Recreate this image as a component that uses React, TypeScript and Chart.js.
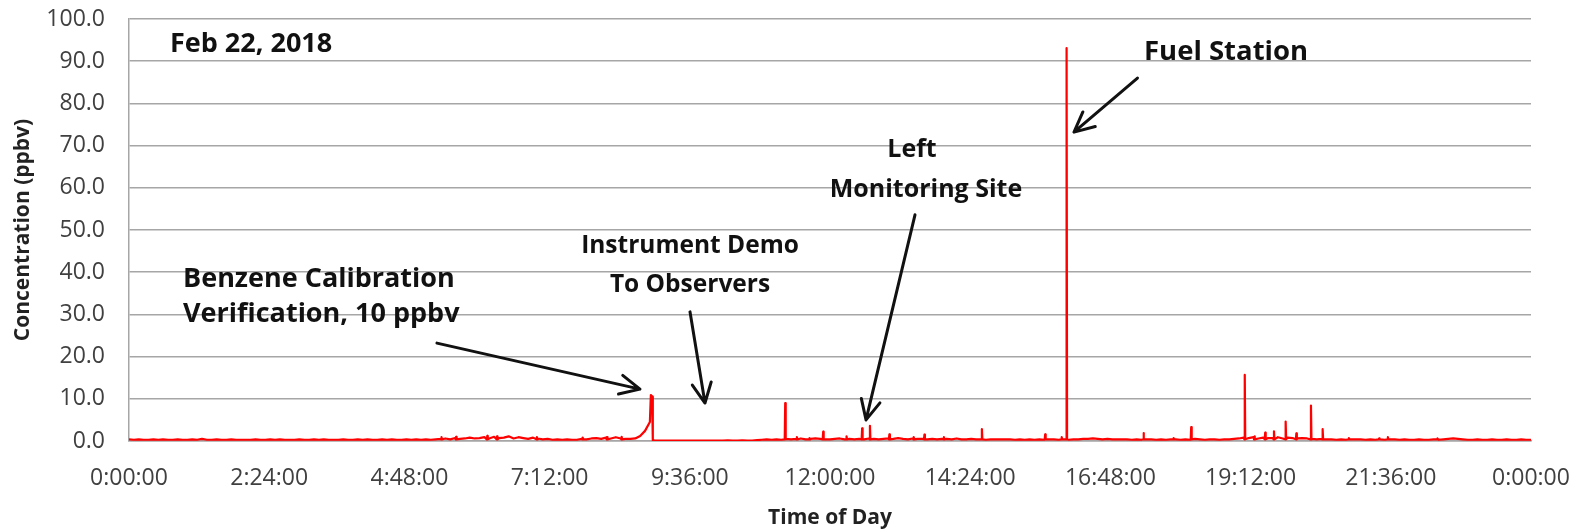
import React, { useEffect, useRef } from 'react';
import { Chart, registerables } from 'chart.js';

Chart.register(...registerables);

// ---------- data ----------
const xTickValues = [0, 144, 288, 432, 576, 720, 864, 1008, 1152, 1296, 1440];
const xTickLabels = ['0:00:00', '2:24:00', '4:48:00', '7:12:00', '9:36:00', '12:00:00', '14:24:00', '16:48:00', '19:12:00', '21:36:00', '0:00:00'];
const yTickLabels = ['0.0', '10.0', '20.0', '30.0', '40.0', '50.0', '60.0', '70.0', '80.0', '90.0', '100.0'];

// baseline concentration every 5 minutes (minute 0 .. 1440)
const baselineStepMin = 5;
const baselineValues = [
  0.4, 0.3, 0.4, 0.3, 0.3, 0.4, 0.3, 0.4, 0.3, 0.3, 0.4, 0.3,
  0.3, 0.4, 0.3, 0.5, 0.3, 0.3, 0.4, 0.3, 0.3, 0.4, 0.3, 0.3,
  0.3, 0.3, 0.4, 0.3, 0.3, 0.4, 0.3, 0.4, 0.3, 0.3, 0.3, 0.4,
  0.3, 0.3, 0.4, 0.3, 0.4, 0.3, 0.3, 0.3, 0.4, 0.3, 0.3, 0.4,
  0.3, 0.4, 0.3, 0.3, 0.4, 0.3, 0.4, 0.3, 0.3, 0.4, 0.3, 0.4,
  0.3, 0.4, 0.3, 0.4, 0.5, 0.6, 0.4, 0.7, 0.5, 0.6, 0.8, 0.6,
  0.7, 0.9, 0.6, 1.0, 0.7, 0.8, 1.1, 0.6, 0.9, 0.7, 0.5, 0.8,
  0.6, 0.4, 0.5, 0.3, 0.4, 0.3, 0.4, 0.3, 0.3, 0.5, 0.4, 0.6,
  0.7, 0.5, 0.8, 0.6, 0.9, 0.6, 0.5, 0.5, 0.6, 1.2, 2.4, 4.5,
  0.1, 0.1, 0.1, 0.1, 0.1, 0.1, 0.1, 0.1, 0.1, 0.1, 0.1, 0.1,
  0.1, 0.1, 0.1, 0.15, 0.1, 0.1, 0.15, 0.1, 0.1, 0.2, 0.3, 0.4,
  0.3, 0.4, 0.3, 0.5, 0.4, 0.5, 0.6, 0.4, 0.5, 0.6, 0.5, 0.4,
  0.4, 0.5, 0.6, 0.4, 0.5, 0.4, 0.5, 0.4, 0.6, 0.5, 0.4, 0.5,
  0.6, 0.5, 0.7, 0.5, 0.4, 0.6, 0.5, 0.5, 0.4, 0.5, 0.4, 0.5,
  0.5, 0.4, 0.6, 0.4, 0.4, 0.5, 0.4, 0.4, 0.3, 0.4, 0.4, 0.4,
  0.4, 0.4, 0.3, 0.4, 0.3, 0.4, 0.3, 0.4, 0.3, 0.4, 0.4, 0.3,
  0.4, 0.3, 0.4, 0.4, 0.5, 0.5, 0.6, 0.5, 0.4, 0.5, 0.4, 0.4,
  0.4, 0.4, 0.3, 0.4, 0.3, 0.4, 0.4, 0.3, 0.4, 0.3, 0.4, 0.4,
  0.3, 0.4, 0.3, 0.5, 0.4, 0.3, 0.4, 0.4, 0.3, 0.4, 0.4, 0.5,
  0.6, 0.8, 0.7, 0.9, 0.6, 0.8, 0.7, 0.7, 0.9, 0.6, 0.8, 0.7,
  0.6, 0.7, 0.6, 0.5, 0.4, 0.5, 0.4, 0.4, 0.3, 0.4, 0.3, 0.4,
  0.4, 0.4, 0.3, 0.4, 0.3, 0.4, 0.3, 0.4, 0.4, 0.3, 0.4, 0.3,
  0.3, 0.4, 0.3, 0.3, 0.4, 0.3, 0.4, 0.5, 0.6, 0.5, 0.4, 0.3,
  0.3, 0.4, 0.3, 0.3, 0.4, 0.3, 0.3, 0.4, 0.3, 0.3, 0.4, 0.3,
  0.3,
];

// calibration verification peak (minutes, ppbv)
const calibrationTimes = [536, 537.3, 538];
const calibrationValues = [10.9, 10.5, 0.2];

// narrow spikes (minutes, ppbv peak)
const spikeTimes = [321, 336, 368, 378, 419, 466, 491, 506, 674, 686, 699, 713, 737, 753, 761, 781, 806, 817, 837, 876, 941, 958, 963, 1042, 1073, 1091, 1146, 1156, 1167, 1176, 1188, 1199, 1214, 1226, 1253, 1284, 1293, 1344];
const spikeValues = [0.9, 1.0, 1.2, 1.1, 0.9, 0.8, 0.9, 1.0, 9.0, 0.9, 0.7, 2.2, 1.1, 3.0, 3.6, 1.6, 0.9, 1.5, 0.9, 2.8, 1.6, 0.9, 93.1, 1.9, 0.7, 3.3, 15.7, 1.1, 2.0, 2.3, 4.6, 1.8, 8.4, 2.8, 0.7, 0.6, 0.9, 0.6];
const spikeFoot = 0.4;

// annotation texts (anchored in data units: minutes, ppbv at text baseline)
const noteTexts = ['Feb 22, 2018', 'Benzene Calibration', 'Verification, 10 ppbv', 'Instrument Demo', 'To Observers', 'Left', 'Monitoring Site', 'Fuel Station'];
const noteX = [42.1, 55.5, 55.5, 576.2, 576.2, 804.2, 818.6, 1042.5];
const noteY = [92.2, 36.5, 28.2, 44.5, 35.3, 67.3, 57.8, 90.3];
const noteAlign = ['left', 'left', 'left', 'center', 'center', 'center', 'center', 'left'];
const noteSize = [27, 27, 27, 24.5, 24.5, 25, 25, 27.5];

// arrows: from (x0,y0) to (x1,y1) in data units
const arrowFromX = [316.3, 576.2, 807.3, 1035.8];
const arrowFromY = [23.2, 30.6, 53.6, 86.0];
const arrowToX = [524.8, 591.6, 757.0, 970.6];
const arrowToY = [12.3, 9.0, 5.0, 73.2];

function buildPoints() {
  const pts: { x: number; y: number }[] = [];
  baselineValues.forEach((v, i) => pts.push({ x: i * baselineStepMin, y: v }));
  calibrationTimes.forEach((t, i) => pts.push({ x: t, y: calibrationValues[i] }));
  spikeTimes.forEach((t, i) => {
    pts.push({ x: t - 0.5, y: spikeFoot });
    pts.push({ x: t, y: spikeValues[i] });
    pts.push({ x: t + 0.5, y: spikeFoot });
  });
  pts.sort((a, b) => a.x - b.x);
  return pts;
}

const FONT = '"Open Sans", "DejaVu Sans", sans-serif';

const annotationPlugin = {
  id: 'notes',
  afterDraw(chart: any) {
    const { ctx, scales } = chart;
    const xs = scales.x;
    const ys = scales.y;
    ctx.save();
    ctx.fillStyle = '#111111';
    ctx.textBaseline = 'alphabetic';
    noteTexts.forEach((t, i) => {
      ctx.font = `bold ${noteSize[i]}px ${FONT}`;
      ctx.textAlign = noteAlign[i];
      ctx.fillText(t, xs.getPixelForValue(noteX[i]), ys.getPixelForValue(noteY[i]));
    });
    ctx.strokeStyle = '#111111';
    ctx.lineWidth = 3;
    ctx.lineCap = 'round';
    ctx.lineJoin = 'round';
    arrowFromX.forEach((_, i) => {
      const x0 = xs.getPixelForValue(arrowFromX[i]);
      const y0 = ys.getPixelForValue(arrowFromY[i]);
      const x1 = xs.getPixelForValue(arrowToX[i]);
      const y1 = ys.getPixelForValue(arrowToY[i]);
      const ang = Math.atan2(y1 - y0, x1 - x0);
      const head = 22;
      const spread = 0.45;
      ctx.beginPath();
      ctx.moveTo(x0, y0);
      ctx.lineTo(x1, y1);
      ctx.moveTo(x1 - head * Math.cos(ang - spread), y1 - head * Math.sin(ang - spread));
      ctx.lineTo(x1, y1);
      ctx.lineTo(x1 - head * Math.cos(ang + spread), y1 - head * Math.sin(ang + spread));
      ctx.stroke();
    });
    // axis titles
    const area = chart.chartArea;
    ctx.fillStyle = '#222222';
    ctx.font = `bold 21px ${FONT}`;
    ctx.textAlign = 'center';
    ctx.textBaseline = 'middle';
    ctx.fillText('Time of Day', (area.left + area.right) / 2, 518);
    ctx.translate(23, (area.top + area.bottom) / 2);
    ctx.rotate(-Math.PI / 2);
    ctx.fillText('Concentration (ppbv)', 0, 0);
    ctx.restore();
  },
};

export default function App() {
  const ref = useRef<HTMLCanvasElement | null>(null);
  useEffect(() => {
    document.body.style.margin = '0';
    if (!ref.current) return;
    const chart = new Chart(ref.current, {
      type: 'line',
      data: {
        datasets: [
          {
            label: 'Benzene',
            data: buildPoints(),
            borderColor: '#ff0000',
            borderWidth: 2.2,
            borderJoinStyle: 'round',
            pointRadius: 0,
            fill: false,
            tension: 0,
          },
        ],
      },
      options: {
        animation: false,
        responsive: true,
        maintainAspectRatio: false,
        parsing: false as any,
        layout: { padding: { top: 19, right: 52, left: 0, bottom: 0 } },
        plugins: { legend: { display: false }, tooltip: { enabled: false }, title: { display: false } },
        scales: {
          x: {
            type: 'linear',
            min: 0,
            max: 1440,
            afterBuildTicks: (s: any) => {
              s.ticks = xTickValues.map((v) => ({ value: v }));
            },
            afterFit: (s: any) => {
              s.height = 91;
              s.paddingLeft = 0;
              s.paddingRight = 0;
            },
            grid: { display: false, drawTicks: false },
            border: { display: true, color: '#a6a6a6', width: 1.5 },
            ticks: {
              autoSkip: false,
              maxRotation: 0,
              padding: 24,
              color: '#404040',
              font: { family: FONT, size: 23 },
              callback: (_v: any, i: number) => xTickLabels[i],
            },
          },
          y: {
            type: 'linear',
            min: 0,
            max: 100,
            afterBuildTicks: (s: any) => {
              s.ticks = yTickLabels.map((_, i) => ({ value: i * 10 }));
            },
            afterFit: (s: any) => {
              s.width = 129;
              s.paddingTop = 0;
              s.paddingBottom = 0;
            },
            grid: { color: '#a6a6a6', lineWidth: 1.5, drawTicks: false },
            border: { display: true, color: '#a6a6a6', width: 1.5 },
            ticks: {
              padding: 24,
              color: '#404040',
              font: { family: FONT, size: 23 },
              callback: (_v: any, i: number) => yTickLabels[i],
            },
          },
        },
      },
      plugins: [annotationPlugin],
    });
    return () => chart.destroy();
  }, []);
  return (
    <div style={{ position: 'relative', width: 1583, height: 532 }}>
      <canvas ref={ref} />
    </div>
  );
}
